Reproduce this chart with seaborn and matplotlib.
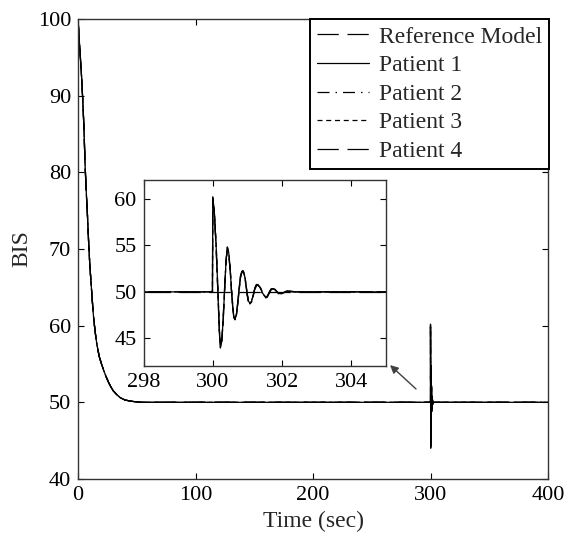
import numpy as np
import pandas as pd
import matplotlib
matplotlib.use("Agg")
import matplotlib.pyplot as plt
import seaborn as sns

# ---- data ----
# induction phase (all patients and the reference overlap)
t_decay = [0, 1, 2, 3, 4, 5, 6, 7, 8, 9, 10, 11, 12, 13, 14, 15, 16, 18, 20,
           22, 24, 26, 28, 30, 33, 36, 40, 45, 50, 55, 60]
bis_decay = [100, 97.5, 95, 92.5, 89.5, 86, 81, 77.5, 74.5, 71, 68, 65.8, 63.6,
             61.5, 60, 58.7, 57.6, 56.0, 55.0, 54.1, 53.3, 52.6, 52.0, 51.5,
             51.0, 50.6, 50.3, 50.15, 50.05, 50.0, 50.0]

# disturbance at t = 300 s
t_dist = [299.99, 300.0, 300.05, 300.1, 300.15, 300.19, 300.22, 300.26, 300.3,
          300.34, 300.38, 300.42, 300.46, 300.5, 300.54, 300.58, 300.61, 300.64,
          300.68, 300.72, 300.76, 300.8, 300.84, 300.87, 300.91, 300.95, 300.99,
          301.03, 301.07, 301.12, 301.17, 301.22, 301.26, 301.3, 301.36, 301.42,
          301.48, 301.53, 301.58, 301.63, 301.68, 301.73, 301.79, 301.85, 301.9,
          301.95, 302.05, 302.15, 302.2, 302.4, 303.0, 304.0, 305.0]
bis_p1 = [50, 60.2, 58.3, 54.6, 49.8, 45.8, 44.1, 44.8, 47.0, 50.2, 53.2, 54.7,
          54.2, 52.5, 50.2, 48.2, 47.3, 47.1, 47.5, 48.8, 50.3, 51.6, 52.1, 52.2,
          51.9, 51.0, 49.8, 49.0, 48.8, 49.0, 49.7, 50.4, 50.7, 50.75, 50.5, 50.0,
          49.6, 49.4, 49.5, 49.9, 50.25, 50.35, 50.25, 50.0, 49.85, 49.8, 49.95,
          50.08, 50.05, 50.0, 50.0, 50.0, 50.0]
bis_p2 = [50, 59.8, 58.0, 54.3, 49.5, 45.6, 44.0, 44.9, 47.2, 50.4, 53.3, 54.6,
          54.0, 52.3, 50.0, 48.0, 47.2, 47.2, 47.6, 48.9, 50.4, 51.7, 52.2, 52.1,
          51.8, 50.9, 49.7, 48.9, 48.8, 49.1, 49.8, 50.5, 50.8, 50.7, 50.4, 49.9,
          49.5, 49.4, 49.6, 50.0, 50.3, 50.3, 50.2, 49.95, 49.8, 49.8, 50.0, 50.1,
          50.05, 50.0, 50.0, 50.0, 50.0]
bis_p3 = [50, 60.0, 58.5, 54.9, 50.1, 46.0, 44.3, 44.7, 46.8, 50.0, 53.0, 54.8,
          54.3, 52.7, 50.4, 48.4, 47.4, 47.0, 47.4, 48.6, 50.1, 51.5, 52.1, 52.3,
          52.0, 51.1, 49.9, 49.1, 48.7, 48.9, 49.6, 50.3, 50.7, 50.8, 50.6, 50.1,
          49.7, 49.4, 49.4, 49.8, 50.2, 50.4, 50.3, 50.05, 49.85, 49.75, 49.9,
          50.05, 50.1, 50.0, 50.0, 50.0, 50.0]
bis_p4 = [50, 60.1, 58.2, 54.5, 49.7, 45.7, 44.0, 44.8, 47.1, 50.3, 53.3, 54.8,
          54.2, 52.4, 50.1, 48.1, 47.2, 47.1, 47.6, 48.9, 50.4, 51.7, 52.2, 52.2,
          51.9, 50.9, 49.8, 48.9, 48.8, 49.0, 49.7, 50.4, 50.75, 50.8, 50.5, 50.0,
          49.6, 49.35, 49.5, 49.9, 50.3, 50.35, 50.25, 50.0, 49.85, 49.8, 49.95,
          50.1, 50.05, 50.0, 50.0, 50.0, 50.0]

t_end = [400]
bis_end = [50]

patients = {"Patient 1": bis_p1, "Patient 2": bis_p2,
            "Patient 3": bis_p3, "Patient 4": bis_p4}
styles = {"Reference Model": (0, (17, 7)),
          "Patient 1": "-",
          "Patient 2": (0, (9.6, 4.8, 1.2, 4.8)),
          "Patient 3": (0, (4, 3)),
          "Patient 4": (0, (17, 7))}

# build long series
frames = []
ref_t = t_decay + [400]
ref_b = bis_decay + [50]
frames.append(pd.DataFrame({"t": ref_t, "bis": ref_b, "name": "Reference Model"}))
for name, vals in patients.items():
    frames.append(pd.DataFrame({"t": t_decay + t_dist + t_end,
                                "bis": bis_decay + vals + bis_end,
                                "name": name}))
df = pd.concat(frames, ignore_index=True)

sns.set_style("ticks")
plt.rcParams["font.family"] = ["Liberation Serif", "DejaVu Serif"]


def draw(ax, lw):
    for name in styles:
        d = df[df["name"] == name]
        sns.lineplot(data=d, x="t", y="bis", ax=ax, color="black",
                     linestyle=styles[name], linewidth=lw, estimator=None,
                     sort=False, label=name, legend=False)


def style_axes(ax, fs):
    ax.tick_params(direction="in", top=True, right=True, length=4,
                   width=0.8, labelsize=fs, pad=5, colors="black")
    for s in ax.spines.values():
        s.set_linewidth(1.0)
        s.set_color("#333333")


fig = plt.figure(figsize=(5.67, 5.35), dpi=100)
ax = fig.add_axes([0.1376, 0.1047, 0.8289, 0.8598])
draw(ax, 0.9)
ax.set_xlim(0, 400)
ax.set_ylim(40, 100)
ax.set_xticks([0, 100, 200, 300, 400])
ax.set_yticks([40, 50, 60, 70, 80, 90, 100])
style_axes(ax, 16)
ax.set_xlabel("Time (sec)", fontsize=17, labelpad=4)
ax.set_ylabel("BIS", fontsize=17, labelpad=4)

handles, labels = ax.get_legend_handles_labels()
leg = ax.legend(handles, labels, loc="upper right", bbox_to_anchor=(1.002, 1.0),
                borderaxespad=0, fontsize=17, frameon=True, fancybox=False,
                framealpha=1, edgecolor="black", handlelength=2.2,
                labelspacing=0.3, handletextpad=0.4, borderpad=0.3)
leg.get_frame().set_linewidth(1.4)

ax.annotate("", xy=(263.8, 55.1), xytext=(289.4, 51.5),
            arrowprops=dict(arrowstyle="-|>", color="#404040", lw=1.0,
                            mutation_scale=12))

ins = fig.add_axes([0.2531, 0.3150, 0.4277, 0.3486])
draw(ins, 0.9)
ins.set_xlim(298, 305)
ins.set_ylim(42, 62)
ins.set_xticks([298, 300, 302, 304])
ins.set_yticks([45, 50, 55, 60])
ins.set_xlabel("")
ins.set_ylabel("")
style_axes(ins, 16)

fig.savefig("out.png", dpi=100)
